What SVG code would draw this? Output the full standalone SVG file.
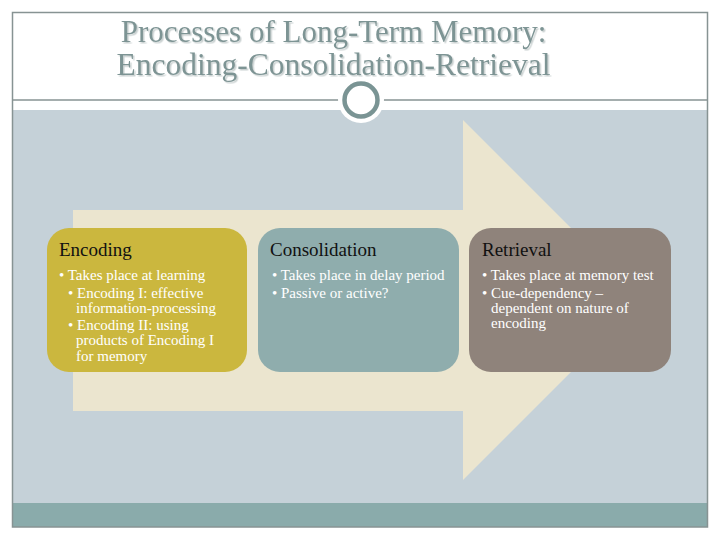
<svg xmlns="http://www.w3.org/2000/svg" width="720" height="540" viewBox="0 0 720 540">
<defs>
<filter id="tshadow" x="-5%" y="-30%" width="110%" height="160%">
<feDropShadow dx="1.5" dy="1.5" stdDeviation="0.6" flood-color="#c9d0d0" flood-opacity="1"/>
</filter>
</defs>
<style>
.title{font-family:"Liberation Serif","DejaVu Serif",serif;font-size:31px;fill:#7d9494;text-anchor:middle}
.head{font-family:"Liberation Serif","DejaVu Serif",serif;font-size:19px;fill:#111111}
.body{font-family:"Liberation Serif","DejaVu Serif",serif;font-size:15px;fill:#ffffff}
.frame{fill:none;stroke:#879393;stroke-width:1.5}
</style>
<rect x="0" y="0" width="720" height="540" fill="#ffffff"/>
<g id="background">
<rect x="12.5" y="110" width="695" height="393" fill="#c5d1d8"/>
<rect x="12.5" y="503" width="695" height="24" fill="#8aabab"/>
<rect x="12.5" y="12.5" width="695" height="514.5" class="frame"/>
<line x1="12.5" y1="100" x2="707.5" y2="100" stroke="#879393" stroke-width="1.5"/>
</g>
<g id="title" filter="url(#tshadow)">
<text class="title" x="333.5" y="42">Processes of Long-Term Memory:</text>
<text class="title" x="333.5" y="75" textLength="434" lengthAdjust="spacingAndGlyphs">Encoding-Consolidation-Retrieval</text>
</g>
<g id="ornament">
<circle cx="361" cy="100" r="23" fill="#ffffff"/>
<circle cx="361" cy="100" r="16.5" fill="#ffffff" stroke="#7a9494" stroke-width="4.5"/>
</g>
<g id="arrow">
<polygon points="73,210 463,210 463,120 643,300 463,480 463,411 73,411" fill="#ebe5cf"/>
</g>
<g id="encoding">
<rect x="47" y="228" width="200" height="144" rx="22" ry="22" fill="#cbb73e"/>
<text class="head" x="59" y="256">Encoding</text>
<text class="body" x="59" y="280">• Takes place at learning</text>
<text class="body" x="68" y="298">• Encoding I:  effective</text>
<text class="body" x="76" y="313">information-processing</text>
<text class="body" x="68" y="330">• Encoding II:  using</text>
<text class="body" x="76" y="345">products of Encoding I</text>
<text class="body" x="76" y="361">for memory</text>
</g>
<g id="consolidation">
<rect x="258" y="228" width="201" height="144" rx="22" ry="22" fill="#8fadad"/>
<text class="head" x="270" y="256">Consolidation</text>
<text class="body" x="272" y="280">• Takes place in delay period</text>
<text class="body" x="272" y="298">• Passive or active?</text>
</g>
<g id="retrieval">
<rect x="469" y="228" width="202" height="144" rx="22" ry="22" fill="#8f837b"/>
<text class="head" x="482" y="256">Retrieval</text>
<text class="body" x="482" y="280">• Takes place at memory test</text>
<text class="body" x="482" y="298">• Cue-dependency –</text>
<text class="body" x="491" y="313">dependent on nature of</text>
<text class="body" x="491" y="328">encoding</text>
</g>
<g id="connectors"></g>
</svg>
